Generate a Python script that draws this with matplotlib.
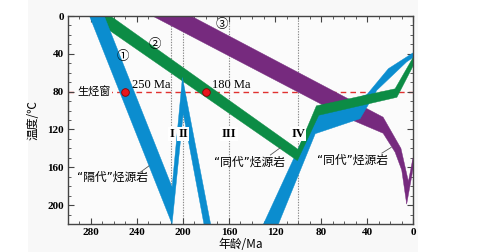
import matplotlib
matplotlib.use("Agg")
import matplotlib.pyplot as plt
from matplotlib.patches import Polygon, Rectangle
from matplotlib.ticker import MultipleLocator

# ---------------- data (age in Ma, temperature in degC) ----------------
blue1_age = [281.3, 209.5, 199.8, 181.8, 176.0, 200.5, 209.5, 268.5]
blue1_temp = [0, 220, 103, 220, 220, 65, 181, 0]

blue2_age = [130, 86, 40, 21.4, 0, 0, 5.5, 31.5, 46, 85, 117]
blue2_temp = [220, 104, 83, 55.7, 39, 44, 48.5, 78.6, 108.6, 124.5, 220]

green_age = [263, 100, 84, 15.6, 0, 0, 14, 82, 100.5, 282]
green_temp = [0, 141, 95, 77, 44, 53, 86, 105, 153, 0]

purple_age = [226.5, 55, 26, 15.6, 9.8, 5.5, 0, 0, 4.0, 10.5, 26, 193]
purple_temp = [0, 109, 124, 144, 163, 199, 162, 150, 175, 140, 107, 0]

stage_ages = [210, 200, 160, 100]
stage_labels = ["I", "II", "III", "IV"]
window_temp = 80
point_ages = [250, 180]
point_labels = ["250 Ma", "180 Ma"]

xticks = [280, 240, 200, 160, 120, 80, 40, 0]
yticks = [0, 40, 80, 120, 160, 200]

BLUE = "#0b8dcf"
GREEN = "#0c8c45"
PURPLE = "#762a7e"

cjk = ["DejaVu Sans", "Noto Sans CJK SC"]
cjk_only = ["Noto Sans CJK SC", "DejaVu Sans"]
serif = ["Liberation Serif", "DejaVu Serif"]

fig = plt.figure(figsize=(4.97, 2.52), dpi=100)
fig.patch.set_facecolor("white")
fig.patches.append(Rectangle((28 / 497, 0), (418 - 28) / 497, 1, transform=fig.transFigure,
                             facecolor="#f8f8f8", edgecolor="none", zorder=-10))
ax = fig.add_axes([68 / 497, 1 - 224 / 252, 345 / 497, 208 / 252])
ax.set_facecolor("#fbfbfb")
ax.set_xlim(300, 0)
ax.set_ylim(220, 0)

# reference lines
for a in stage_ages:
    ax.axvline(a, color="#8a8a8a", lw=0.8, ls=(0, (1.2, 1.2)), zorder=1)
ax.axhline(window_temp, color="#e0312f", lw=1.0, ls=(0, (4, 3)), zorder=1)

# bands
def band(xs, ys, color, z):
    ax.add_patch(Polygon(list(zip(xs, ys)), closed=True, facecolor=color,
                         edgecolor=color, lw=0.3, zorder=z))

band(purple_age, purple_temp, PURPLE, 2)
band(blue2_age, blue2_temp, BLUE, 3)
band(green_age, green_temp, GREEN, 4)
band(blue1_age, blue1_temp, BLUE, 5)

# points
ax.plot(point_ages, [window_temp] * len(point_ages), "o", ms=5.5,
        mfc="#e8161d", mec="#8b0000", mew=0.6, zorder=7, clip_on=False)
for a, lab in zip(point_ages, point_labels):
    ax.text(a - 5.5, window_temp - 6.5, lab, fontsize=9, family=serif,
            ha="left", va="center", zorder=8)

# stage labels
for a, lab in zip(stage_ages, stage_labels):
    ax.text(a, 125, lab, fontsize=9, family=serif, fontweight="bold",
            ha="center", va="center", zorder=8,
            bbox=dict(boxstyle="square,pad=0.1", fc="white", ec="none"))

# window label
ax.text(292, window_temp, "生烃窗", fontsize=8, family=cjk_only, ha="left", va="center",
        zorder=8, bbox=dict(boxstyle="square,pad=0.1", fc="#fbfbfb", ec="none"))

# circled numbers
ax.text(252, 43, "①", fontsize=9, family=cjk_only, ha="center", va="center", zorder=8)
ax.text(224.5, 30, "②", fontsize=9, family=cjk_only, ha="center", va="center", zorder=8)
ax.text(166, 9, "③", fontsize=9, family=cjk_only, ha="center", va="center", zorder=8)

# source rock labels with leaders
ax.text(292, 170, "“隔代”烃源岩", fontsize=8.5, family=cjk, ha="left", va="center", zorder=8)
ax.plot([238, 229.5], [166, 158.5], color="#555555", lw=0.6, zorder=8)
ax.text(142, 155, "“同代”烃源岩", fontsize=8.5, family=cjk, ha="center", va="center", zorder=8)
ax.plot([124, 115], [147, 139], color="#555555", lw=0.6, zorder=8)
ax.text(52.5, 152, "“同代”烃源岩", fontsize=8.5, family=cjk, ha="center", va="center", zorder=8)
ax.plot([27, 19], [145, 139], color="#555555", lw=0.6, zorder=8)

# axes styling
ax.set_xticks(xticks)
ax.set_yticks(yticks)
ax.xaxis.set_minor_locator(MultipleLocator(10))
ax.yaxis.set_minor_locator(MultipleLocator(10))
ax.tick_params(which="both", direction="in", top=True, right=True, color="#444444",
               labelsize=8, pad=3)
ax.tick_params(which="major", length=4, width=0.8)
ax.tick_params(which="minor", length=2, width=0.6)
for lbl in ax.get_xticklabels() + ax.get_yticklabels():
    lbl.set_family(serif)
    lbl.set_fontweight("bold")
for s in ax.spines.values():
    s.set_color("#444444")
    s.set_linewidth(1.0)
    s.set_zorder(9)

ax.text(0.5, -0.1, "年龄/Ma", transform=ax.transAxes, fontsize=8.5, family=cjk_only,
        ha="center", va="center")
ax.text(-0.1, 0.5, "温度/℃", transform=ax.transAxes, fontsize=8.5, family=cjk_only,
        ha="center", va="center", rotation=90)

fig.savefig("out.png", dpi=100, facecolor=fig.get_facecolor())
